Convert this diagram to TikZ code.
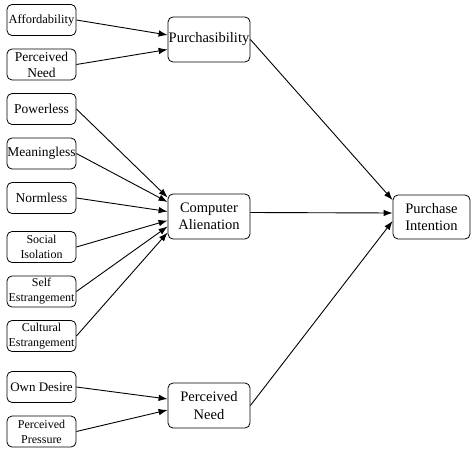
\documentclass[tikz,border=0pt]{standalone}
\usepackage{fontspec}
\setmainfont{Liberation Serif}
\usetikzlibrary{arrows.meta,positioning}

\newcommand{\letragrande}{\fontsize{14.5}{17.5}\selectfont}
\newcommand{\letramedia}{\fontsize{13.5}{16}\selectfont}
\newcommand{\letrachica}{\fontsize{12}{15}\selectfont}

\begin{document}
\begin{tikzpicture}[x=1pt, y=1pt, node distance=44.5pt, on grid, >={Latex[length=9pt,width=6.5pt]}]

    % Estilos para los nodos y las flechas
    \tikzstyle{caja}=[rectangle, draw, line width=0.8pt, rounded corners=5pt, minimum width=69pt, minimum height=31pt, inner sep=0pt, align=center, font=\letramedia]
    \tikzstyle{grande}=[caja, minimum width=82pt, minimum height=45pt, font=\letragrande]
    \tikzstyle{flecha}=[->, line width=0.9pt]

    \useasboundingbox (0,0) rectangle (471,-449);

    % Columna izquierda (indicadores)
    \node[caja, font=\fontsize{12.5}{15}\selectfont] (Afford) at (41.5,-20) {Affordability};
    \node[caja] (NecPerc) [below=of Afford] {Perceived\\Need};
    \node[caja] (Power) [below=of NecPerc] {Powerless};
    \node[caja] (Meaning) [below=of Power] {Meaningless};
    \node[caja] (Norm) [below=of Meaning] {Normless};
    \node[caja, font=\letrachica] (Social) [below=49pt of Norm] {Social\\Isolation};
    \node[caja, font=\letrachica] (Self) [below=of Social] {Self\\Estrangement};
    \node[caja, font=\letrachica] (Cultural) [below=of Self] {Cultural\\Estrangement};
    \node[caja, font=\fontsize{13}{15}\selectfont] (Deseo) [below=51pt of Cultural] {Own Desire};
    \node[caja, font=\letrachica] (Presion) [below=of Deseo] {Perceived\\Pressure};

    % Columna central (constructos)
    \node[grande] (Purch) at (209,-39.5) {Purchasibility};
    \node[grande] (Alien) at (209,-216.5) {Computer\\Alienation};
    \node[grande] (Need) at (209,-405.5) {Perceived\\Need};

    % Columna derecha
    \node[grande, minimum width=77pt, minimum height=44pt] (Intent) at (431.5,-217) {Purchase\\Intention};

    % Flechas hacia los constructos
    \draw[flecha] (Afford.east) -- ([yshift=4.5pt]Purch.west);
    \draw[flecha] (NecPerc.east) -- ([yshift=-10pt]Purch.west);
    \draw[flecha] (Power.east) -- ([yshift=19pt]Alien.west);
    \draw[flecha] (Meaning.east) -- ([yshift=14.5pt]Alien.west);
    \draw[flecha] (Norm.east) -- ([yshift=5pt]Alien.west);
    \draw[flecha] (Social.east) -- ([yshift=-4pt]Alien.west);
    \draw[flecha] (Self.east) -- ([yshift=-10pt]Alien.west);
    \draw[flecha] (Cultural.east) -- ([yshift=-16pt]Alien.west);
    \draw[flecha] (Deseo.east) -- ([yshift=6.5pt]Need.west);
    \draw[flecha] (Presion.east) -- ([yshift=-4.5pt]Need.west);

    % Flechas hacia la intencion de compra
    \draw[flecha] (Purch.east) -- ([yshift=17pt]Intent.west);
    \draw[flecha] ([yshift=4pt]Alien.east) -- ([yshift=4pt]Intent.west);
    \draw[flecha] (Need.east) -- ([yshift=-4pt]Intent.west);
\end{tikzpicture}
\end{document}
